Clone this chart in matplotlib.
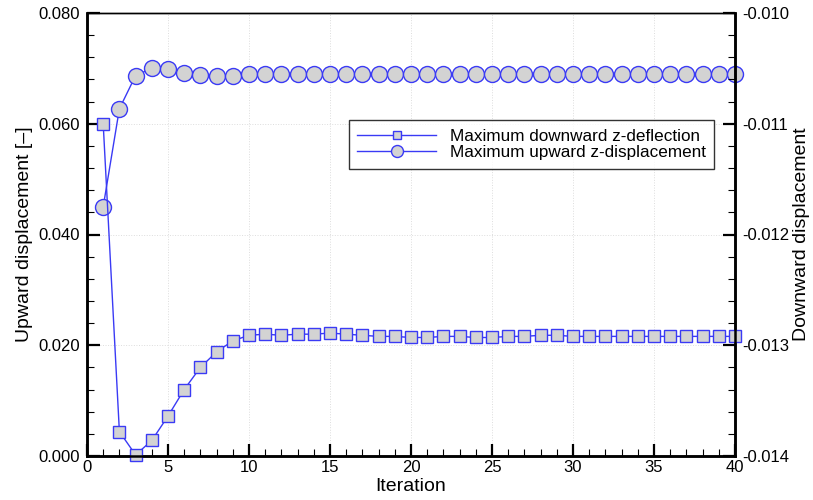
import numpy as np
import matplotlib.pyplot as plt
from matplotlib.ticker import MultipleLocator

plt.rcParams['font.family'] = ['Liberation Sans', 'DejaVu Sans']

iteration = list(range(1, 41))
upward = [0.0450, 0.0627, 0.0687, 0.0700, 0.0698, 0.0692, 0.0688, 0.0686, 0.0687, 0.0689,
          0.0690, 0.0690, 0.0690, 0.0690, 0.0690, 0.0690, 0.0690, 0.0690, 0.0690, 0.0690,
          0.0690, 0.0690, 0.0690, 0.0690, 0.0690, 0.0690, 0.0690, 0.0690, 0.0690, 0.0690,
          0.0690, 0.0690, 0.0690, 0.0690, 0.0690, 0.0690, 0.0690, 0.0690, 0.0690, 0.0690]
downward = [-0.01100, -0.01378, -0.01399, -0.01386, -0.01364, -0.01340, -0.01320, -0.01306, -0.01296, -0.01291,
            -0.01290, -0.01291, -0.01290, -0.01290, -0.01289, -0.01290, -0.01291, -0.01292, -0.01292, -0.01293,
            -0.01293, -0.01292, -0.01292, -0.01293, -0.01293, -0.01292, -0.01292, -0.01291, -0.01291, -0.01292,
            -0.01292, -0.01292, -0.01292, -0.01292, -0.01292, -0.01292, -0.01292, -0.01292, -0.01292, -0.01292]

blau = "#3a3af5"
grau = "#d3d3d3"

fig = plt.figure(figsize=(8.13, 5.0), dpi=100)
ax = fig.add_axes([0.107, 0.088, 0.797, 0.886])
ax2 = ax.twinx()

l2, = ax.plot(iteration, upward, color=blau, linewidth=1.0, marker="o", markersize=11.5,
              markerfacecolor=grau, markeredgecolor=blau, markeredgewidth=1.0, clip_on=False,
              label="Maximum upward z-displacement")
l1, = ax2.plot(iteration, downward, color=blau, linewidth=1.0, marker="s", markersize=8,
               markerfacecolor=grau, markeredgecolor=blau, markeredgewidth=1.0, clip_on=False,
               label="Maximum downward z-deflection")

ax.set_xlim(0, 40)
ax.set_ylim(0, 0.08)
ax2.set_ylim(-0.014, -0.010)

ax.xaxis.set_major_locator(MultipleLocator(5))
ax.xaxis.set_minor_locator(MultipleLocator(1))
ax.yaxis.set_major_locator(MultipleLocator(0.02))
ax.yaxis.set_minor_locator(MultipleLocator(0.004))
ax2.yaxis.set_major_locator(MultipleLocator(0.001))
ax2.yaxis.set_minor_locator(MultipleLocator(0.0002))
ax.yaxis.set_major_formatter(plt.FormatStrFormatter('%.3f'))
ax2.yaxis.set_major_formatter(plt.FormatStrFormatter('%.3f'))

ax.grid(True, which="major", linestyle=":", color="#dddddd", linewidth=0.7)

for a in (ax, ax2):
    for name, s in a.spines.items():
        s.set_linewidth(1.0 if name == "top" else 1.8)
    a.tick_params(which="major", direction="in", length=9, width=1.6, labelsize=12, top=False)
    a.tick_params(which="minor", direction="in", length=5, width=0.8, top=False)
ax.tick_params(axis="y", pad=5)
ax2.tick_params(axis="y", pad=5)
ax.tick_params(axis="x", pad=3)

ax.set_xlabel("Iteration", fontsize=14, labelpad=2)
ax.set_ylabel("Upward displacement [–]", fontsize=14, labelpad=4)
ax2.set_ylabel("Downward displacement", fontsize=14, labelpad=3)

leg = ax2.legend(handles=[l1, l2], loc="upper left", bbox_to_anchor=(0.404, 0.758),
                 borderaxespad=0, fontsize=12.3, frameon=True, fancybox=False,
                 edgecolor="black", handlelength=4.6, markerscale=0.75, borderpad=0.5,
                 labelspacing=0.1, handletextpad=0.8)
leg.get_frame().set_linewidth(1.0)

fig.savefig("out.png", dpi=100)
